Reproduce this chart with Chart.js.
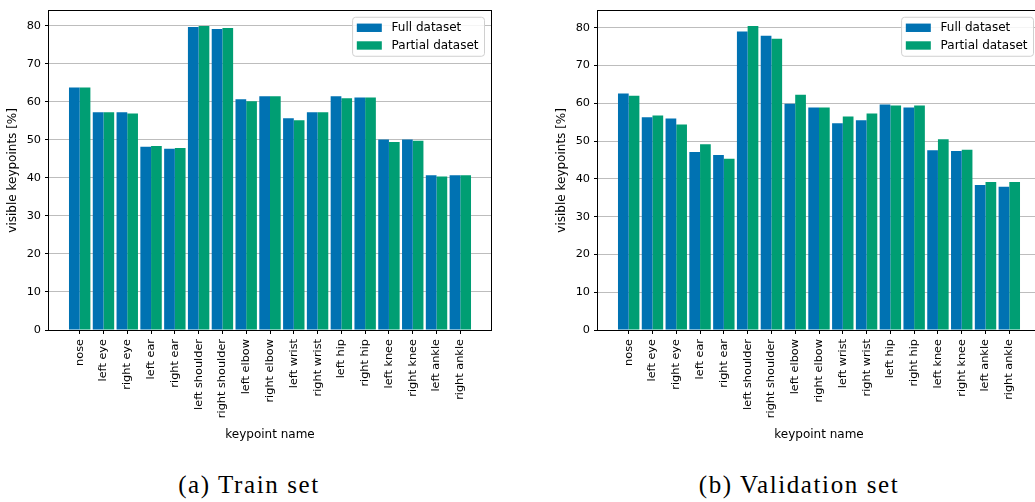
<!DOCTYPE html>
<html>
<head>
<meta charset="utf-8">
<script src="https://cdn.jsdelivr.net/npm/chart.js@4.4.1/dist/chart.umd.min.js"></script>
<style>
  html, body { margin: 0; padding: 0; background: #fff; }
  body { width: 1035px; height: 502px; position: relative; overflow: hidden; }
  canvas { position: absolute; top: 0; }
  #trainChart { left: 0; }
  #valChart { left: 549px; }
  .caption {
    position: absolute; width: 320px; text-align: center;
    font-family: "Liberation Serif", serif; font-size: 25px; line-height: 25px;
    letter-spacing: 1.6px; color: #000; top: 472px;
  }
</style>
</head>
<body>
<canvas id="trainChart" width="500" height="446"></canvas>
<canvas id="valChart" width="500" height="446"></canvas>
<div class="caption" style="left: 89px;">(a) Train set</div>
<div class="caption" style="left: 639px;">(b) Validation set</div>
<script>
// Keypoint categories shown on the x axis
const keypoints = [
  'nose', 'left eye', 'right eye', 'left ear', 'right ear',
  'left shoulder', 'right shoulder', 'left elbow', 'right elbow',
  'left wrist', 'right wrist', 'left hip', 'right hip',
  'left knee', 'right knee', 'left ankle', 'right ankle'
];

// Share of visible keypoints [%] in the train set
const trainFull    = [63.8, 57.3, 57.3, 48.2, 47.7, 79.7, 79.2, 60.7, 61.5, 55.7, 57.3, 61.5, 61.2, 50.1, 50.1, 40.7, 40.7];
const trainPartial = [63.8, 57.3, 57.0, 48.4, 47.9, 80.0, 79.5, 60.2, 61.5, 55.2, 57.3, 61.0, 61.2, 49.5, 49.8, 40.4, 40.7];

// Share of visible keypoints [%] in the validation set
const valFull    = [62.6, 56.3, 56.0, 47.1, 46.3, 79.0, 77.9, 59.9, 58.9, 54.7, 55.5, 59.7, 58.9, 47.6, 47.4, 38.4, 37.9];
const valPartial = [62.0, 56.8, 54.4, 49.2, 45.3, 80.5, 77.1, 62.3, 58.9, 56.5, 57.3, 59.4, 59.4, 50.5, 47.7, 39.2, 39.2];

// y axis tick values
const yTickValues = [0, 10, 20, 30, 40, 50, 60, 70, 80];

const seriesNames = ['Full dataset', 'Partial dataset'];
const seriesColors = ['#0072B2', '#009E73'];

Chart.defaults.font.family = '"DejaVu Sans", sans-serif';
Chart.defaults.color = '#000';

// Black frame around the plotting area
const framePlugin = {
  id: 'frame',
  afterDatasetsDraw(chart) {
    const {ctx, chartArea: a} = chart;
    const l = Math.round(a.left), t = Math.round(a.top);
    const r = Math.round(a.right), b = Math.round(a.bottom);
    ctx.save();
    ctx.fillStyle = '#000';
    ctx.fillRect(l - 1, t - 1, r - l + 2, 1);   // top
    ctx.fillRect(l - 1, b, r - l + 2, 1);       // bottom
    ctx.fillRect(l - 1, t - 1, 1, b - t + 2);   // left
    ctx.fillRect(r, t - 1, 1, b - t + 2);       // right
    ctx.restore();
  }
};

// Boxed legend in the upper right corner of the plotting area
const boxLegendPlugin = {
  id: 'boxLegend',
  afterDraw(chart) {
    const {ctx, chartArea: a} = chart;
    const sets = chart.data.datasets;
    ctx.save();
    ctx.font = '12px "DejaVu Sans", sans-serif';
    const textW = Math.max(...sets.map(d => ctx.measureText(d.label).width));
    const w = 39.5 + textW + 5.5;
    const h = 39;
    const x = a.right - 7 - w;
    const y = a.top + 6;
    ctx.beginPath();
    ctx.roundRect(x + 0.5, y + 0.5, w, h, 3);
    ctx.fillStyle = 'rgba(255,255,255,0.85)';
    ctx.fill();
    ctx.strokeStyle = '#d0d0d0';
    ctx.lineWidth = 1;
    ctx.stroke();
    sets.forEach((d, i) => {
      const cy = y + 11 + i * 17.7;
      ctx.fillStyle = d.backgroundColor;
      ctx.fillRect(x + 4.7, cy - 4.2, 25, 8.4);
      ctx.fillStyle = '#000';
      ctx.textBaseline = 'middle';
      ctx.textAlign = 'left';
      ctx.fillText(d.label, x + 39.5, cy + 0.5);
    });
    ctx.restore();
  }
};

function makeChart(id, full, partial, yMax) {
  const series = [full, partial];
  return new Chart(document.getElementById(id), {
    type: 'bar',
    data: {
      datasets: series.map((vals, s) => ({
        label: seriesNames[s],
        data: vals.map((v, i) => ({x: i, y: v})),
        backgroundColor: seriesColors[s],
        borderWidth: 0,
        categoryPercentage: 0.9,
        barPercentage: 1.0
      }))
    },
    options: {
      responsive: false,
      animation: false,
      devicePixelRatio: 1,
      layout: {padding: {top: 7, right: 9, left: 0, bottom: 0}},
      plugins: {legend: {display: false}, tooltip: {enabled: false}},
      scales: {
        x: {
          type: 'linear',
          offset: false,
          min: -1.29,
          max: keypoints.length - 1 + 1.29,
          afterBuildTicks: s => { s.ticks = keypoints.map((_, i) => ({value: i})); },
          afterFit: s => { s.height = 116; },
          ticks: {
            callback: v => keypoints[v],
            autoSkip: false,
            maxRotation: 90,
            minRotation: 90,
            padding: 5,
            font: {size: 11.3}
          },
          grid: {drawOnChartArea: false, tickLength: 4, tickColor: '#000', color: '#000', offset: false},
          border: {display: false},
          title: {display: true, text: 'keypoint name', font: {size: 12}, padding: {top: 4, bottom: 4}}
        },
        y: {
          min: 0,
          max: yMax,
          afterBuildTicks: s => { s.ticks = yTickValues.map(v => ({value: v})); },
          afterFit: s => { s.width = 49; },
          ticks: {padding: 4, font: {size: 11.3}},
          grid: {color: '#bdbdbd', lineWidth: 1, tickColor: '#000', tickLength: 4},
          border: {display: false},
          title: {display: true, text: 'visible keypoints [%]', font: {size: 12}, padding: {top: 6, bottom: 0}}
        }
      }
    },
    plugins: [framePlugin, boxLegendPlugin]
  });
}

makeChart('trainChart', trainFull, trainPartial, 84.0);
makeChart('valChart', valFull, valPartial, 84.5);
</script>
</body>
</html>
